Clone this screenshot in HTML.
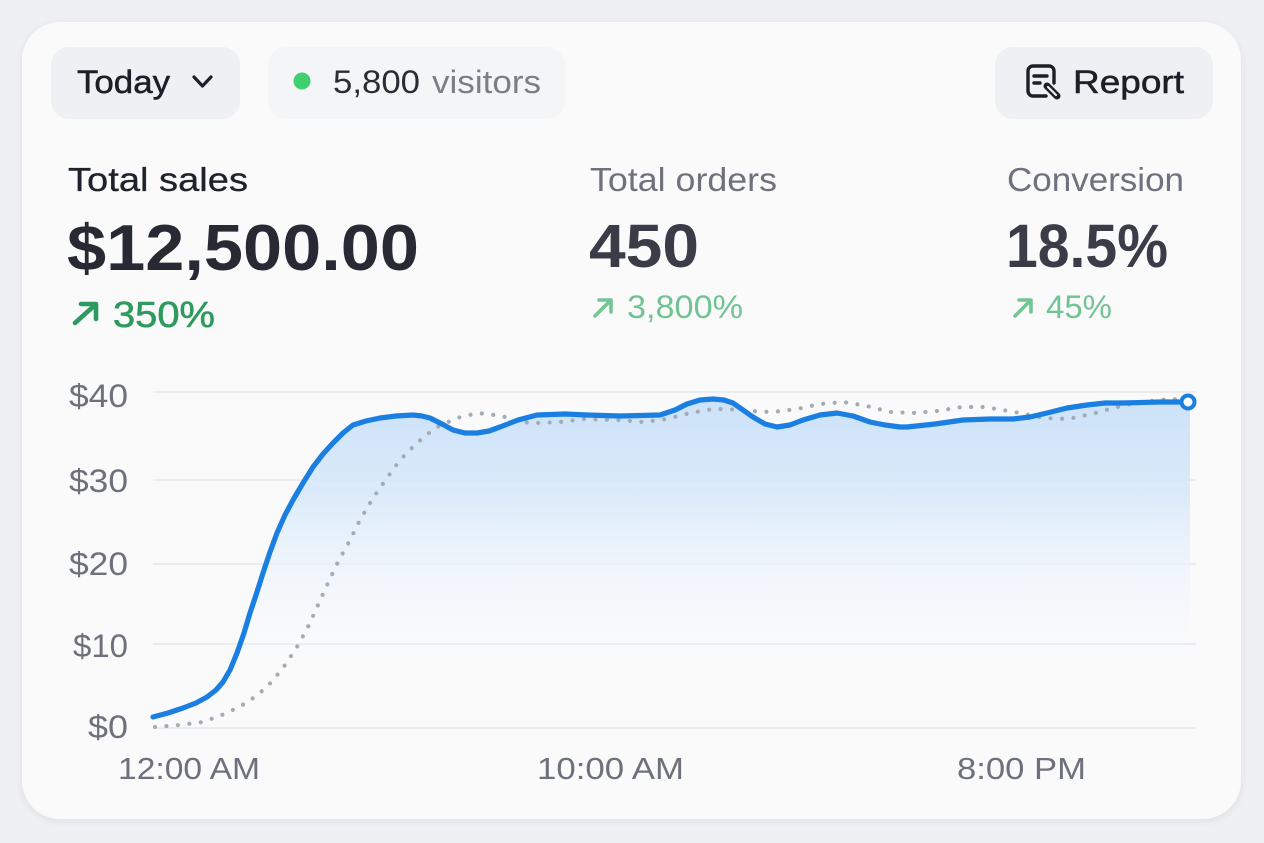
<!DOCTYPE html>
<html>
<head>
<meta charset="utf-8">
<style>
  html, body { margin: 0; padding: 0; background: #eff0f3; }
  svg { display: block; }
  text { font-family: "Liberation Sans", Arial, sans-serif; }
</style>
</head>
<body>
<svg width="1264" height="843" viewBox="0 0 1264 843" xmlns="http://www.w3.org/2000/svg">
  <defs>
    <linearGradient id="fillGrad" x1="0" y1="395" x2="0" y2="728" gradientUnits="userSpaceOnUse">
      <stop offset="0" stop-color="#c9e0f8" stop-opacity="0.95"/>
      <stop offset="0.3" stop-color="#d6e8fa" stop-opacity="0.85"/>
      <stop offset="0.55" stop-color="#e8f2fc" stop-opacity="0.5"/>
      <stop offset="0.75" stop-color="#f4f8fc" stop-opacity="0.15"/>
      <stop offset="1" stop-color="#fafbfc" stop-opacity="0"/>
    </linearGradient>
    <filter id="shadow" x="-5%" y="-5%" width="110%" height="110%">
      <feDropShadow dx="0" dy="2" stdDeviation="4" flood-color="#b8bcc8" flood-opacity="0.35"/>
    </filter>
  </defs>

  <!-- background -->
  <rect x="0" y="0" width="1264" height="843" fill="#eff0f3"/>
  <!-- card -->
  <rect x="22" y="22" width="1219" height="797" rx="38" ry="38" fill="#fafafb" filter="url(#shadow)"/>

  <!-- Today button -->
  <rect x="51" y="47" width="189" height="72" rx="18" fill="#eef0f3"/>
  <text x="77" y="93" font-size="32" fill="#1c1f27" stroke="#1c1f27" stroke-width="0.5" textLength="93" lengthAdjust="spacingAndGlyphs">Today</text>
  <polyline points="194,77 202.5,86 211,77" fill="none" stroke="#1c1f27" stroke-width="3.2" stroke-linecap="round" stroke-linejoin="round"/>

  <!-- visitors pill -->
  <rect x="268" y="47" width="297" height="72" rx="18" fill="#f4f5f7"/>
  <circle cx="302" cy="81" r="8.5" fill="#3ecf6e"/>
  <text x="333" y="93" font-size="32" fill="#2a2d36" textLength="87" lengthAdjust="spacingAndGlyphs">5,800</text>
  <text x="432" y="93" font-size="32" fill="#7b7e88" textLength="109" lengthAdjust="spacingAndGlyphs">visitors</text>

  <!-- Report button -->
  <rect x="995" y="47" width="218" height="72" rx="18" fill="#eef0f3"/>
  <g fill="none" stroke="#1c1f27" stroke-width="3.4" stroke-linecap="round" stroke-linejoin="round">
    <path d="M1046,96 H1033 a5,5 0 0 1 -5,-5 V71 a5,5 0 0 1 5,-5 H1049 a5,5 0 0 1 5,5 V83"/>
    <line x1="1034" y1="76" x2="1047" y2="76"/>
    <line x1="1034" y1="83" x2="1040" y2="83"/>
  </g>
  <g>
    <line x1="1047" y1="86" x2="1057" y2="96" stroke="#1c1f27" stroke-width="7" stroke-linecap="round"/>
    <line x1="1048" y1="87" x2="1056" y2="95" stroke="#eef0f3" stroke-width="2.2" stroke-linecap="round"/>
  </g>
  <text x="1073" y="93" font-size="32" fill="#1c1f27" stroke="#1c1f27" stroke-width="0.5" textLength="111" lengthAdjust="spacingAndGlyphs">Report</text>

  <!-- Stats: Total sales -->
  <text x="68" y="191" font-size="33" fill="#1e222b" stroke="#1e222b" stroke-width="0.3" textLength="180" lengthAdjust="spacingAndGlyphs">Total sales</text>
  <text x="67" y="270" font-size="65" font-weight="bold" fill="#272a33" textLength="352" lengthAdjust="spacingAndGlyphs">$12,500.00</text>
  <g stroke="#2f9a60" stroke-width="4.6" fill="none" stroke-linecap="round" stroke-linejoin="round">
    <line x1="75" y1="323" x2="95" y2="305"/>
    <polyline points="81,304 96,304 96,319"/>
  </g>
  <text x="113" y="327" font-size="36" fill="#2e9a5f" stroke="#2e9a5f" stroke-width="0.6" textLength="102" lengthAdjust="spacingAndGlyphs">350%</text>

  <!-- Stats: Total orders -->
  <text x="590" y="191" font-size="33" fill="#6f727c" textLength="187" lengthAdjust="spacingAndGlyphs">Total orders</text>
  <text x="589" y="267" font-size="61" font-weight="bold" fill="#3a3d48" textLength="110" lengthAdjust="spacingAndGlyphs">450</text>
  <g stroke="#74c596" stroke-width="3.6" fill="none" stroke-linecap="round" stroke-linejoin="round">
    <line x1="595" y1="316" x2="610" y2="301"/>
    <polyline points="599,300 611,300 611,312"/>
  </g>
  <text x="627" y="318" font-size="32" fill="#71c394" textLength="116" lengthAdjust="spacingAndGlyphs">3,800%</text>

  <!-- Stats: Conversion -->
  <text x="1007" y="191" font-size="33" fill="#6f727c" textLength="177" lengthAdjust="spacingAndGlyphs">Conversion</text>
  <text x="1006" y="267" font-size="61" font-weight="bold" fill="#3a3d48" textLength="162" lengthAdjust="spacingAndGlyphs">18.5%</text>
  <g stroke="#74c596" stroke-width="3.6" fill="none" stroke-linecap="round" stroke-linejoin="round">
    <line x1="1015" y1="316" x2="1030" y2="301"/>
    <polyline points="1019,300 1031,300 1031,312"/>
  </g>
  <text x="1046" y="318" font-size="32" fill="#71c394" textLength="66" lengthAdjust="spacingAndGlyphs">45%</text>

  <!-- gridlines -->
  <g stroke="#e6e7ec" stroke-width="1.6">
    <line x1="153" y1="392" x2="1196" y2="392"/>
    <line x1="153" y1="480" x2="1196" y2="480"/>
    <line x1="153" y1="564" x2="1196" y2="564"/>
    <line x1="153" y1="644" x2="1196" y2="644"/>
    <line x1="153" y1="728" x2="1196" y2="728"/>
  </g>

  <!-- y labels -->
  <g font-size="32" fill="#6e717b" text-anchor="end">
    <text x="128" y="407" textLength="59" lengthAdjust="spacingAndGlyphs">$40</text>
    <text x="128" y="492" textLength="59" lengthAdjust="spacingAndGlyphs">$30</text>
    <text x="128" y="575" textLength="59" lengthAdjust="spacingAndGlyphs">$20</text>
    <text x="128" y="657" textLength="55" lengthAdjust="spacingAndGlyphs">$10</text>
    <text x="128" y="738" textLength="40" lengthAdjust="spacingAndGlyphs">$0</text>
  </g>

  <!-- x labels -->
  <g font-size="31" fill="#6e717b">
    <text x="118" y="779" textLength="142" lengthAdjust="spacingAndGlyphs">12:00 AM</text>
    <text x="537" y="779" textLength="147" lengthAdjust="spacingAndGlyphs">10:00 AM</text>
    <text x="957" y="779" textLength="129" lengthAdjust="spacingAndGlyphs">8:00 PM</text>
  </g>

  <!-- area fill -->
  <path fill="url(#fillGrad)" d="M153,717 L168,713 L183,708 L196,703 L207,697 L216,690 L223,682 L230,670 L237,653 L244,633 L250,613 L257,592 L263,573 L270,552 L277,533 L285,515 L293,500 L303,483 L313,467 L323,454 L333,443 L343,433 L353,425 L366,421 L380,418 L396,416 L413,415 L422,416 L430,418 L442,424 L453,430 L465,433 L477,433 L489,431 L500,427 L518,420 L537,415 L565,414 L587,415 L620,416 L660,415 L675,410 L687,404 L700,400 L713,399 L724,400 L733,403 L743,410 L753,417 L765,424 L777,427 L790,425 L803,420 L820,415 L837,413 L853,416 L870,422 L885,425 L900,427 L907,427 L935,424 L963,420 L990,419 L1013,419 L1030,417 L1047,413 L1067,408 L1087,405 L1105,403 L1123,403 L1160,402 L1190,402 L1190,728 L153,728 Z"/>

  <!-- dotted comparison line -->
  <path fill="none" stroke="#a3abb5" stroke-width="4.2" stroke-linecap="round" stroke-dasharray="0 11.5" d="M155,727 L180,725 L203,722 L227,713 L248,702 L267,687 L283,668 L297,647 L308,627 L318,605 L328,583 L338,562 L350,540 L360,520 L373,498 L387,478 L400,460 L417,443 L435,428 L457,418 L478,413 L502,416 L520,422 L537,423 L560,422 L583,419 L620,420 L643,422 L667,419 L690,413 L713,409 L727,409 L750,411 L773,412 L797,409 L820,404 L843,402 L867,406 L890,412 L913,413 L937,411 L962,407 L985,407 L1008,411 L1020,413 L1043,418 L1068,419 L1092,414 L1113,408 L1136,403 L1160,400 L1173,399 L1188,401"/>

  <!-- main line -->
  <path fill="none" stroke="#1a7fe0" stroke-width="5.2" stroke-linecap="round" stroke-linejoin="round" d="M153,717 L168,713 L183,708 L196,703 L207,697 L216,690 L223,682 L230,670 L237,653 L244,633 L250,613 L257,592 L263,573 L270,552 L277,533 L285,515 L293,500 L303,483 L313,467 L323,454 L333,443 L343,433 L353,425 L366,421 L380,418 L396,416 L413,415 L422,416 L430,418 L442,424 L453,430 L465,433 L477,433 L489,431 L500,427 L518,420 L537,415 L565,414 L587,415 L620,416 L660,415 L675,410 L687,404 L700,400 L713,399 L724,400 L733,403 L743,410 L753,417 L765,424 L777,427 L790,425 L803,420 L820,415 L837,413 L853,416 L870,422 L885,425 L900,427 L907,427 L935,424 L963,420 L990,419 L1013,419 L1030,417 L1047,413 L1067,408 L1087,405 L1105,403 L1123,403 L1160,402 L1188,402"/>
  <circle cx="1188" cy="402" r="6.5" fill="#ffffff" stroke="#1a7fe0" stroke-width="4"/>
</svg>
</body>
</html>
